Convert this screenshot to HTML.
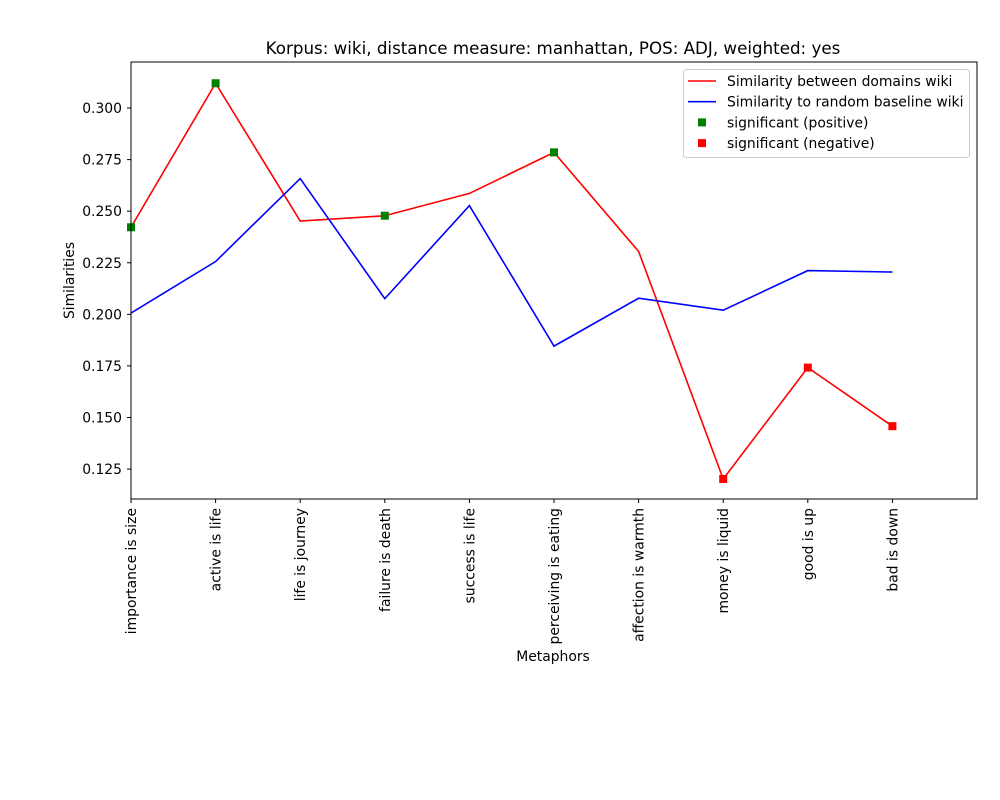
<!DOCTYPE html>
<html><head><meta charset="utf-8">
<style>
html,body{margin:0;padding:0;background:#fff;}
svg{display:block;font-family:"DejaVu Sans","Liberation Sans",sans-serif;}
</style></head>
<body>
<svg id="chart" width="1000" height="800"></svg>
<script>
const categories = ["importance is size","active is life","life is journey","failure is death","success is life","perceiving is eating","affection is warmth","money is liquid","good is up","bad is down"];
const domainValues = [0.2422,0.3120,0.2452,0.2478,0.2586,0.2785,0.2305,0.1202,0.1742,0.1458];
const baselineValues = [0.2006,0.2256,0.2658,0.2076,0.2527,0.1846,0.2078,0.2020,0.2212,0.2205];
const positiveIdx = [0,1,3,5];
const negativeIdx = [7,8,9];
const yTicks = [0.125,0.150,0.175,0.200,0.225,0.250,0.275,0.300];

const NS = "http://www.w3.org/2000/svg";
const svg = document.getElementById("chart");
const L=131,R=977,T=62,B=499;
const yMin=0.1105,yMax=0.3223,xMin=0,xMax=10;
const FS=13.9;
const xs = i => L + (i - xMin)/(xMax - xMin)*(R-L);
const ys = v => B - (v - yMin)/(yMax - yMin)*(B-T);
function mk(tag, attrs, parent){const e=document.createElementNS(NS,tag);for(const k in attrs)e.setAttribute(k,attrs[k]);(parent||svg).appendChild(e);return e;}

const title = mk("text",{x:553,y:54,"text-anchor":"middle","font-size":16.7,fill:"#000"});
title.textContent="Korpus: wiki, distance measure: manhattan, POS: ADJ, weighted: yes";



yTicks.forEach(v=>{
  const y=ys(v);
  const t=mk("line",{x1:L-4,x2:L,y1:y,y2:y,stroke:"#000","stroke-width":1});
  
  
  const lb=mk("text",{x:L-9,y:y+5,"text-anchor":"end","font-size":FS,fill:"#000"});
  lb.textContent=v.toFixed(3);
  
  
});
categories.forEach((c,i)=>{
  const x=xs(i);
  const t=mk("line",{x1:x,x2:x,y1:B,y2:B+4,stroke:"#000","stroke-width":1});
  
  
  const lb=mk("text",{x:0,y:0,"text-anchor":"end","font-size":FS,fill:"#000",transform:`translate(${x+5},${B+9}) rotate(-90)`});
  lb.textContent=c;
  
  
});

const yl=mk("text",{x:0,y:0,"text-anchor":"middle","font-size":FS,fill:"#000",transform:`translate(74,${(T+B)/2}) rotate(-90)`});
yl.textContent="Similarities";


const xl=mk("text",{x:553,y:661,"text-anchor":"middle","font-size":FS,fill:"#000"});
xl.textContent="Metaphors";



function line(vals,color,name){
  const p=mk("polyline",{points:vals.map((v,i)=>xs(i)+","+ys(v)).join(" "),fill:"none",stroke:color,"stroke-width":1.6});
  
  
}
line(domainValues,"#ff0000","domain-similarity-line");
line(baselineValues,"#0000ff","baseline-similarity-line");

positiveIdx.forEach(i=>{
  const m=mk("rect",{x:xs(i)-4,y:ys(domainValues[i])-4,width:8,height:8,fill:"#008000"});
  
  
});
negativeIdx.forEach(i=>{
  const m=mk("rect",{x:xs(i)-4,y:ys(domainValues[i])-4,width:8,height:8,fill:"#ff0000"});
  
  
});

const frame=mk("rect",{x:L,y:T,width:R-L,height:B-T,fill:"none",stroke:"#000","stroke-width":1});



const lg=mk("g",{});


mk("rect",{x:683.5,y:69.5,width:286,height:88,rx:3,fill:"#fff",stroke:"#ccc","stroke-width":1},lg);
const entries=[["line","#ff0000","Similarity between domains wiki"],["line","#0000ff","Similarity to random baseline wiki"],["sq","#008000","significant (positive)"],["sq","#ff0000","significant (negative)"]];
entries.forEach((e,k)=>{
  const y=81+k*20.7;
  const g=mk("g",{},lg);
  
  
  if(e[0]==="line") mk("line",{x1:688,x2:716,y1:y,y2:y,stroke:e[1],"stroke-width":1.6},g);
  else mk("rect",{x:698,y:y-4,width:8,height:8,fill:e[1]},g);
  const t=mk("text",{x:727,y:y+5,"font-size":FS,fill:"#000"},g);
  t.textContent=e[2];
});
</script>
</body></html>
